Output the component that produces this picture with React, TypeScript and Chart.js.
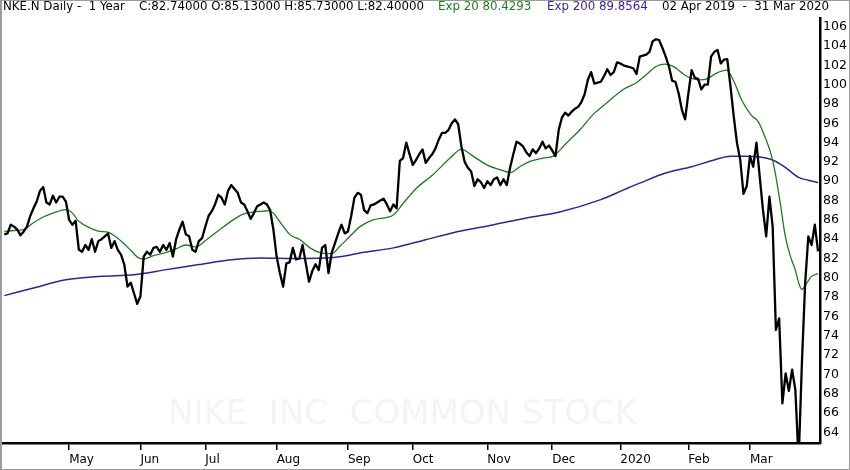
import React, { useEffect, useRef } from "react";
import { Chart, registerables } from "chart.js";

Chart.register(...registerables);

// Daily closes, 02 Apr 2019 .. 31 Mar 2020 (trading-day index 0..251)
const CLOSE: number[] = [
  84.5, 84.6, 85.5, 85.3, 85.0, 84.4, 84.8, 85.3, 86.4, 87.2,
  87.9, 89.0, 89.4, 87.8, 87.6, 88.5, 87.8, 88.4, 88.4, 87.9,
  86.0, 85.5, 85.9, 82.9, 82.7, 83.4, 82.9, 84.0, 82.7, 83.8,
  84.0, 84.3, 84.6, 83.1, 83.8, 82.9, 82.4, 81.4, 79.1, 79.5,
  78.4, 77.3, 78.1, 82.2, 82.7, 82.4, 83.1, 83.2, 82.7, 83.4,
  82.9, 83.6, 82.2, 84.0, 85.0, 85.8, 84.5, 84.3, 82.9, 82.7,
  83.8, 84.1, 85.3, 86.4, 86.9, 87.6, 88.6, 88.3, 87.6, 89.0,
  89.6, 89.2, 88.8, 87.8, 87.6, 86.9, 86.1, 86.7, 87.4, 87.6,
  87.8, 87.6, 87.0, 85.0, 82.2, 80.5, 79.1, 81.5, 81.6, 83.1,
  81.9, 82.0, 83.4, 81.5, 79.6, 80.7, 81.4, 80.8, 83.1, 83.4,
  80.5, 82.6, 83.6, 84.6, 85.5, 84.6, 84.8, 86.4, 88.3, 88.8,
  88.6, 87.0, 86.7, 87.5, 87.6, 87.8, 88.0, 88.2, 87.6, 86.9,
  87.6, 87.2, 92.1, 92.4, 94.0, 92.8, 91.7, 92.2, 92.8, 93.3,
  91.9, 92.4, 92.8, 93.4, 94.3, 95.0, 95.0, 95.3, 96.0, 96.4,
  95.9, 93.6, 92.0, 91.4, 91.0, 89.5, 90.2, 89.9, 89.3, 90.0,
  89.6, 90.2, 90.4, 89.6, 90.2, 89.6, 91.4, 92.8, 94.1, 93.9,
  93.6, 93.0, 92.6, 93.3, 92.9, 93.4, 94.1, 93.4, 93.7, 93.2,
  92.6, 95.3, 96.6, 97.1, 96.8, 97.2, 97.5, 97.7, 98.2, 99.0,
  100.5, 101.3, 100.1, 100.2, 100.3, 100.9, 101.6, 101.0, 101.3, 102.3,
  102.2, 102.0, 101.9, 101.8, 101.7, 101.1, 102.9, 103.0, 103.1, 103.4,
  104.5, 104.7, 104.6, 103.8, 102.9, 101.9, 100.4, 100.3, 99.1, 97.4,
  96.4, 99.1, 101.5, 100.7, 100.6, 99.5, 100.0, 100.0, 102.9, 103.4,
  103.6, 102.2, 102.6, 102.65, 99.8, 96.7, 93.95, 92.2, 88.7, 89.5,
  92.6, 91.5, 94.0, 90.5, 87.05, 84.3, 88.4, 85.3, 74.6, 75.8,
  67.0, 70.1, 68.3, 70.5, 68.4, 61.0, 71.0, 79.3, 84.3, 83.4,
  85.5, 82.74,
];

// Exp 20 moving average, read as [trading-day index, value]
const EXP20: [number, number][] = [
  [0, 84.8], [3, 84.9], [6, 85.0], [9, 85.7], [12, 86.3], [15, 86.7], [19, 87.06],
  [21, 86.7], [23, 85.85], [26.5, 85.16], [29.5, 84.8], [31.6, 84.75], [34.2, 84.3],
  [36.7, 83.6], [39.3, 82.75], [41.4, 82.06], [42.9, 81.95], [46, 82.3], [50, 82.64],
  [53, 83.0], [56, 83.4], [59, 83.2], [62.4, 83.95], [66.5, 85.0], [70.6, 86.0],
  [73.7, 86.6], [76.8, 86.8], [79.9, 86.9], [81.5, 86.95], [83, 86.7], [85, 85.8],
  [88, 84.5], [91.2, 83.95], [94.3, 83.1], [97.4, 82.6], [101, 82.5], [103.5, 83.26],
  [106.6, 84.3], [109.7, 85.3], [113.8, 86.0], [120, 86.5], [123, 87.7], [127.2, 89.3],
  [132.3, 90.7], [137.5, 92.4], [141, 93.3], [144.6, 92.6], [148.8, 91.7], [152.9, 91.2],
  [156, 90.9], [159, 91.5], [162.1, 92.06], [166.2, 92.4], [169.3, 92.6], [173.4, 93.95],
  [177.5, 95.3], [181.6, 96.9], [185.8, 98.1], [190.9, 99.5], [195, 100.2], [198, 101.03],
  [201.2, 101.9], [203.7, 102.13], [206.3, 101.9], [210.4, 100.9], [214.5, 100.5],
  [216.6, 100.58], [219.7, 101.2], [222.8, 101.5], [224.8, 100.5], [227.6, 98.3],
  [230.5, 96.8], [232.5, 96.2], [234.6, 94.6], [236.5, 92.8], [237.8, 90.85],
  [239.4, 87.6], [240.9, 84.3], [242.5, 82.2], [244, 80.8], [245, 79.5], [246, 78.8],
  [247.5, 79.46], [249, 80.15], [251, 80.43],
];

// Exp 200 moving average, read as [trading-day index, value]
const EXP200: [number, number][] = [
  [0, 78.16], [9, 78.95], [19, 79.8], [30, 80.16], [40, 80.33], [50, 80.85], [60, 81.37],
  [70, 81.88], [79, 82.05], [89, 82.0], [99, 82.05], [104, 82.2], [110, 82.6], [120, 83.1],
  [130, 83.95], [140, 84.8], [151, 85.5], [161, 86.2], [171, 86.8], [184, 88.1],
  [191, 89.1], [196, 89.8], [204, 90.85], [212, 91.5], [219, 92.2], [224, 92.6],
  [229, 92.6], [233, 92.5], [237, 92.2], [241, 91.4], [245, 90.4], [248, 90.1], [251, 89.86],
];

// First trading day of each month (index) and its label
const MONTH_IDX = [20, 42, 62, 84, 106, 126, 149, 169, 190, 211, 230];
const MONTH_LABELS = ["May", "Jun", "Jul", "Aug", "Sep", "Oct", "Nov", "Dec", "2020", "Feb", "Mar"];

const PRICE_TICKS = [64, 66, 68, 70, 72, 74, 76, 78, 80, 82, 84, 86, 88, 90, 92, 94, 96, 98, 100, 102, 104, 106];

const GREEN = "#1f7a1f";
const PURPLE = "#3a1f8f";
const FONT = '"DejaVu Sans", "Liberation Sans", sans-serif';

const watermark = {
  id: "watermark",
  beforeDatasetsDraw(chart: any) {
    const ctx = chart.ctx as CanvasRenderingContext2D;
    const text = "NIKE  INC  COMMON STOCK";
    ctx.save();
    ctx.font = `33px ${FONT}`;
    const w = ctx.measureText(text).width;
    const size = 33 * (469 / w);
    ctx.font = `${size}px ${FONT}`;
    ctx.fillStyle = "#f4f4f4";
    ctx.textAlign = "center";
    ctx.textBaseline = "alphabetic";
    ctx.fillText(text, 402.5, 424);
    ctx.restore();
  },
};

export default function App() {
  const ref = useRef<HTMLCanvasElement | null>(null);

  useEffect(() => {
    if (!ref.current) return;
    const chart = new Chart(ref.current, {
      type: "line",
      data: {
        datasets: [
          {
            label: "NKE.N",
            data: CLOSE.map((v, i) => ({ x: i, y: v })),
            borderColor: "#000000",
            borderWidth: 2.3,
            pointRadius: 0,
            tension: 0,
            borderJoinStyle: "round",
          },
          {
            label: "Exp 20",
            data: EXP20.map(([x, y]) => ({ x, y })),
            borderColor: GREEN,
            borderWidth: 1.3,
            pointRadius: 0,
            cubicInterpolationMode: "monotone",
          },
          {
            label: "Exp 200",
            data: EXP200.map(([x, y]) => ({ x, y })),
            borderColor: PURPLE,
            borderWidth: 1.5,
            pointRadius: 0,
            cubicInterpolationMode: "monotone",
          },
        ],
      },
      options: {
        animation: false,
        responsive: false,
        events: [],
        layout: { padding: { left: 3, top: 18, right: 0, bottom: 0 } },
        plugins: { legend: { display: false }, tooltip: { enabled: false }, title: { display: false } },
        scales: {
          x: {
            type: "linear",
            min: -0.4,
            max: 251.6,
            afterBuildTicks: (s: any) => {
              s.ticks = MONTH_IDX.map((v) => ({ value: v }));
            },
            afterFit: (s: any) => {
              s.height = 27;
            },
            ticks: {
              autoSkip: false,
              maxRotation: 0,
              align: "start",
              padding: 3,
              color: "#000",
              font: { family: FONT, size: 12 },
              callback: (v: any) => {
                const k = MONTH_IDX.indexOf(Number(v));
                return k >= 0 ? MONTH_LABELS[k] : "";
              },
            },
            grid: { drawOnChartArea: false, drawTicks: true, tickLength: 7, color: "#000", lineWidth: 1.5 },
            border: { display: true, color: "#000", width: 2.5 },
          },
          y: {
            type: "linear",
            position: "right",
            min: 62.9,
            max: 106.9,
            afterBuildTicks: (s: any) => {
              s.ticks = PRICE_TICKS.map((v) => ({ value: v }));
            },
            afterFit: (s: any) => {
              s.width = 30;
            },
            ticks: {
              padding: 3,
              color: "#000",
              font: { family: FONT, size: 12.5 },
              callback: (v: any) => String(v),
            },
            grid: { drawOnChartArea: false, drawTicks: false, color: "#000" },
            border: { display: true, color: "#000", width: 2.5 },
          },
        },
      },
      plugins: [watermark],
    } as any);
    return () => chart.destroy();
  }, []);

  const hdr: React.CSSProperties = {
    position: "absolute",
    top: 1,
    fontFamily: FONT,
    fontSize: 11.8,
    lineHeight: 1,
    whiteSpace: "pre",
    color: "#000",
  };

  return (
    <div style={{ position: "fixed", left: 0, top: 0, width: 850, height: 470, background: "#fff", overflow: "hidden" }}>
      <canvas ref={ref} width={850} height={470} style={{ position: "absolute", left: 0, top: 0, width: 850, height: 470 }} />
      <span style={{ ...hdr, left: 3 }}>NKE.N Daily -  1 Year</span>
      <span style={{ ...hdr, left: 139 }}>C:82.74000 O:85.13000 H:85.73000 L:82.40000</span>
      <span style={{ ...hdr, left: 438, color: GREEN }}>Exp 20 80.4293</span>
      <span style={{ ...hdr, left: 547, color: PURPLE }}>Exp 200 89.8564</span>
      <span style={{ ...hdr, left: 662 }}>02 Apr 2019  -  31 Mar 2020</span>
      <div
        style={{
          position: "absolute",
          left: 0,
          top: 0,
          width: 850,
          height: 470,
          boxSizing: "border-box",
          border: "1px solid #9c9c9c",
          borderLeft: "2px solid #9c9c9c",
          pointerEvents: "none",
        }}
      />
    </div>
  );
}
